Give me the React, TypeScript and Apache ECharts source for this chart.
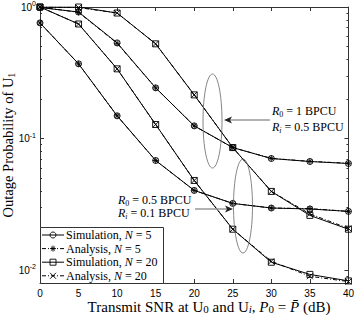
import React, { useEffect, useRef } from 'react';
import * as echarts from 'echarts';

const snrDb = [0, 5, 10, 15, 20, 25, 30, 35, 40];
const xTicks = [0, 5, 10, 15, 20, 25, 30, 35, 40];
// R0 = 1 BPCU, Ri = 0.5 BPCU
const simN5R1 = [0.99, 0.916, 0.534, 0.243, 0.125, 0.0855, 0.0706, 0.067, 0.0647];
const anaN5R1 = [1.0, 0.91, 0.53, 0.243, 0.125, 0.0855, 0.0708, 0.0672, 0.065];
const simN20R1 = [1.0, 1.0, 0.9, 0.525, 0.215, 0.0855, 0.0397, 0.0261, 0.0205];
const anaN20R1 = [1.0, 0.99, 0.9, 0.525, 0.215, 0.0855, 0.0397, 0.0268, 0.0208];
// R0 = 0.5 BPCU, Ri = 0.1 BPCU
const simN5R05 = [0.757, 0.37, 0.149, 0.0682, 0.0404, 0.0322, 0.0297, 0.0292, 0.028];
const anaN5R05 = [0.757, 0.37, 0.149, 0.0682, 0.0404, 0.0322, 0.0297, 0.0294, 0.028];
const simN20R05 = [1.0, 0.743, 0.339, 0.128, 0.0481, 0.0205, 0.0115, 0.0093, 0.0083];
const anaN20R05 = [1.0, 0.743, 0.339, 0.128, 0.0481, 0.0205, 0.0117, 0.009, 0.0082];

const legendNames = ['Simulation, N = 5', 'Analysis, N = 5', 'Simulation, N = 20', 'Analysis, N = 20'];
const legendKinds = ['circle', 'star', 'square', 'x'];

const Y_MIN = 0.008;
const Y_MAX = 1;

const SYM: Record<string, string> = {
  circle: 'path://M10,5A5,5,0,1,1,0,5A5,5,0,1,1,10,5Z',
  square: 'path://M0,0L10,0L10,10L0,10Z',
  star: 'path://M5,0L5,10M0,5L10,5M1.5,1.5L8.5,8.5M8.5,1.5L1.5,8.5',
  x: 'path://M0,0L10,10M10,0L0,10',
};

const SERIF = '"Liberation Serif", "Times New Roman", serif';
const SANS = '"Liberation Sans", Arial, sans-serif';
const DASHDOT = [4, 2, 1, 2];

function minorValues(): number[] {
  const out: number[] = [];
  for (let k = -3; k <= -1; k++) {
    for (let m = 2; m <= 9; m++) {
      const v = m * Math.pow(10, k);
      if (v > Y_MIN * 1.0001 && v < Y_MAX) out.push(v);
    }
  }
  return out;
}

const richSerif = (size: number, lh?: number) => ({
  n: { fontFamily: SERIF, fontSize: size, lineHeight: lh ?? size + 3, color: '#000' },
  i: { fontFamily: SERIF, fontSize: size, fontStyle: 'italic', lineHeight: lh ?? size + 3, color: '#000' },
  s: { fontFamily: SERIF, fontSize: Math.round(size * 0.7), verticalAlign: 'bottom', color: '#000' },
  si: { fontFamily: SERIF, fontSize: Math.round(size * 0.7), fontStyle: 'italic', verticalAlign: 'bottom', color: '#000' },
});

function legendGraphics(): any[] {
  const els: any[] = [];
  const boxX = 40.5, boxY = 227.5, boxW = 123, boxH = 56;
  const Z = 20;
  els.push({
    type: 'rect', z: Z, shape: { x: boxX, y: boxY, width: boxW, height: boxH },
    style: { fill: '#fff', stroke: '#333', lineWidth: 1 },
  });
  const stroke = { stroke: '#000', lineWidth: 0.9, fill: 'none' };
  legendNames.forEach((name, i) => {
    const cy = 235 + i * 13.6;
    const dashed = name.startsWith('Analysis');
    els.push({
      type: 'line', z: Z, shape: { x1: 42, y1: cy, x2: 64, y2: cy },
      style: { stroke: '#000', lineWidth: 1, lineDash: dashed ? DASHDOT : null },
    });
    const cx = 53, r = 3;
    const kind = legendKinds[i];
    if (kind === 'circle') {
      els.push({ type: 'circle', z: Z, shape: { cx, cy, r }, style: stroke });
    } else if (kind === 'square') {
      els.push({ type: 'rect', z: Z, shape: { x: cx - r, y: cy - r, width: 2 * r, height: 2 * r }, style: stroke });
    } else {
      const segs: number[][] = kind === 'x'
        ? [[-r, -r, r, r], [r, -r, -r, r]]
        : [[0, -r, 0, r], [-r, 0, r, 0], [-2.1, -2.1, 2.1, 2.1], [2.1, -2.1, -2.1, 2.1]];
      segs.forEach((s) => els.push({
        type: 'line', z: Z,
        shape: { x1: cx + s[0], y1: cy + s[1], x2: cx + s[2], y2: cy + s[3] },
        style: { stroke: '#000', lineWidth: 0.9 },
      }));
    }
    const m = name.match(/^(.*), N = (\d+)$/)!;
    els.push({
      type: 'text', z: Z, x: 66, y: cy,
      style: {
        text: `{n|${m[1]}, }{i|N}{n| = ${m[2]}}`,
        rich: richSerif(12), verticalAlign: 'middle', align: 'left',
      },
    });
  });
  return els;
}

export default function App() {
  const ref = useRef<HTMLDivElement>(null);

  useEffect(() => {
    if (!ref.current) return;
    const chart = echarts.init(ref.current, undefined, { renderer: 'svg' });

    const symStyle = { color: 'rgba(0,0,0,0)', borderColor: '#000', borderWidth: 0.9 };

    const mk = (idx: number, data: number[], z: number) => ({
      name: legendNames[idx],
      type: 'line',
      data: snrDb.map((x, i) => [x, data[i]]),
      symbol: SYM[legendKinds[idx]],
      symbolSize: 6,
      showSymbol: true,
      silent: true,
      z,
      lineStyle: { color: '#000', width: 1, type: idx % 2 === 1 ? DASHDOT : 'solid' },
      itemStyle: symStyle,
      emphasis: { disabled: true },
    });

    const axisLineStyle = { lineStyle: { color: '#333', width: 1 } };
    const minors = minorValues();

    const option: any = {
      animation: false,
      grid: { left: 40, right: 6, top: 6, bottom: 32, containLabel: false },
      xAxis: [
        {
          type: 'value', min: 0, max: 40, interval: 5, position: 'bottom',
          axisLine: axisLineStyle,
          axisTick: { inside: true, length: 4, lineStyle: { color: '#333' } },
          axisLabel: { fontFamily: SANS, fontSize: 10, lineHeight: 11, color: '#000', margin: 5, customValues: xTicks },
          splitLine: { show: false },
        },
        {
          type: 'value', min: 0, max: 40, interval: 5, position: 'top',
          axisLine: axisLineStyle,
          axisTick: { inside: true, length: 4, lineStyle: { color: '#333' } },
          axisLabel: { show: false },
          splitLine: { show: false },
        },
      ],
      yAxis: [
        {
          type: 'log', logBase: 10, min: Y_MIN, max: Y_MAX, position: 'left',
          axisLine: { show: true, ...axisLineStyle },
          axisTick: { inside: true, length: 4, lineStyle: { color: '#333' } },
          axisLabel: {
            margin: 4,
            formatter: (v: number) => {
              const l = Math.log10(v);
              const e = Math.round(l);
              if (Math.abs(l - e) > 1e-6) return '';
              return `{b|10}{e|${e}}`;
            },
            rich: {
              b: { fontFamily: SANS, fontSize: 10, color: '#000', lineHeight: 14 },
              e: { fontFamily: SANS, fontSize: 7, color: '#000', verticalAlign: 'top' },
            },
          },
          splitLine: { show: false },
        },
        {
          type: 'log', logBase: 10, min: Y_MIN, max: Y_MAX, position: 'left',
          axisLine: { show: false },
          axisTick: { inside: true, length: 2, customValues: minors, lineStyle: { color: '#333' } },
          axisLabel: { show: false },
          splitLine: { show: false },
        },
        {
          type: 'log', logBase: 10, min: Y_MIN, max: Y_MAX, position: 'right',
          axisLine: { show: true, ...axisLineStyle },
          axisTick: { inside: true, length: 4, lineStyle: { color: '#333' } },
          axisLabel: { show: false },
          splitLine: { show: false },
        },
        {
          type: 'log', logBase: 10, min: Y_MIN, max: Y_MAX, position: 'right',
          axisLine: { show: false },
          axisTick: { inside: true, length: 2, customValues: minors, lineStyle: { color: '#333' } },
          axisLabel: { show: false },
          splitLine: { show: false },
        },
      ],
      series: [
        mk(0, simN5R1, 2),
        mk(1, anaN5R1, 3),
        mk(2, simN20R1, 2),
        mk(3, anaN20R1, 3),
        mk(0, simN5R05, 2),
        mk(1, anaN5R05, 3),
        mk(2, simN20R05, 2),
        mk(3, anaN20R05, 3),
      ],
      graphic: [
        // y-axis title
        {
          type: 'text', x: 8, y: 145, rotation: Math.PI / 2,
          style: {
            text: '{n|Outage Probability of U}{s|1}',
            rich: richSerif(14.5, 16),
            align: 'center', verticalAlign: 'middle',
          },
        },
        // x-axis title
        {
          type: 'text', x: 209, y: 306.5,
          style: {
            text: '{n|Transmit SNR at U}{s|0}{n| and U}{si|i}{n|, }{i|P}{s|0}{n| = }{i|P̄}{n| (dB)}',
            rich: richSerif(15, 15),
            align: 'center', verticalAlign: 'middle',
          },
        },
        // ellipses
        {
          type: 'ellipse', shape: { cx: 212.5, cy: 121, rx: 9.5, ry: 47 },
          style: { fill: 'none', stroke: '#666', lineWidth: 0.8 }, z: 10,
        },
        {
          type: 'ellipse', shape: { cx: 243, cy: 206, rx: 9.5, ry: 47 },
          style: { fill: 'none', stroke: '#666', lineWidth: 0.8 }, z: 10,
        },
        // arrow 1
        {
          type: 'line', shape: { x1: 270, y1: 120, x2: 229, y2: 120 },
          style: { stroke: '#999', lineWidth: 1.5 }, z: 10,
        },
        {
          type: 'polygon', shape: { points: [[224, 120], [232, 116.5], [230, 120], [232, 123.5]] },
          style: { fill: '#222' }, z: 10,
        },
        // arrow 2
        {
          type: 'line', shape: { x1: 195, y1: 209, x2: 228, y2: 209 },
          style: { stroke: '#999', lineWidth: 1.5 }, z: 10,
        },
        {
          type: 'polygon', shape: { points: [[233, 209], [225, 205.5], [227, 209], [225, 212.5]] },
          style: { fill: '#222' }, z: 10,
        },
        // annotation texts
        {
          type: 'text', x: 272, y: 111, z: 10,
          style: { text: '{i|R}{s|0}{n| = 1 BPCU}', rich: richSerif(12), verticalAlign: 'middle', align: 'left' },
        },
        {
          type: 'text', x: 272, y: 127, z: 10,
          style: { text: '{i|R}{si|i}{n| = 0.5 BPCU}', rich: richSerif(12), verticalAlign: 'middle', align: 'left' },
        },
        {
          type: 'text', x: 118, y: 200, z: 10,
          style: { text: '{i|R}{s|0}{n| = 0.5 BPCU}', rich: richSerif(12), verticalAlign: 'middle', align: 'left' },
        },
        {
          type: 'text', x: 118, y: 213, z: 10,
          style: { text: '{i|R}{si|i}{n| = 0.1 BPCU}', rich: richSerif(12), verticalAlign: 'middle', align: 'left' },
        },
        ...legendGraphics(),
      ],
    };

    chart.setOption(option);
    return () => chart.dispose();
  }, []);

  return (
    <div
      ref={ref}
      style={{ position: 'fixed', left: 0, top: 0, width: 357, height: 315, background: '#fff' }}
    />
  );
}
